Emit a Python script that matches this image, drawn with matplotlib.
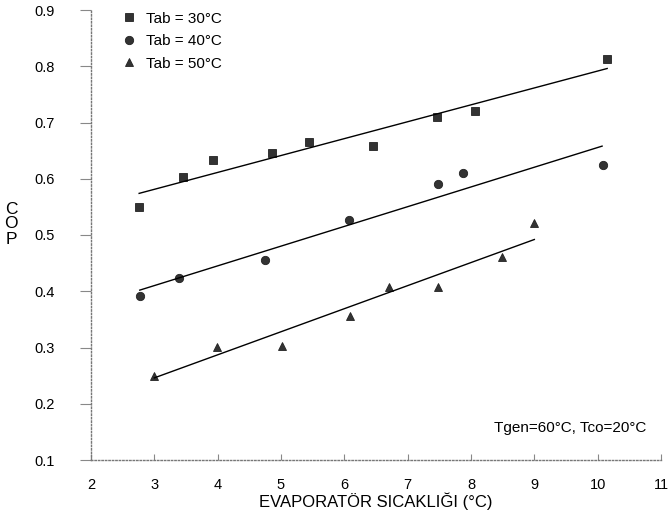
import matplotlib
matplotlib.use("Agg")
import matplotlib.pyplot as plt

plt.rcParams['font.family'] = ['Liberation Sans', 'DejaVu Sans']

# Tab = 30°C
x30 = [2.76, 3.45, 3.93, 4.86, 5.44, 6.45, 7.47, 8.07, 10.15]
y30 = [0.549, 0.603, 0.633, 0.645, 0.665, 0.658, 0.709, 0.720, 0.812]
fit30_x = [2.76, 10.15]
fit30_y = [0.574, 0.796]

# Tab = 40°C
x40 = [2.77, 3.39, 4.75, 6.08, 7.48, 7.88, 10.09]
y40 = [0.391, 0.423, 0.455, 0.526, 0.590, 0.610, 0.624]
fit40_x = [2.77, 10.07]
fit40_y = [0.402, 0.658]

# Tab = 50°C
x50 = [3.0, 3.99, 5.02, 6.09, 6.71, 7.48, 8.49, 9.0]
y50 = [0.249, 0.301, 0.302, 0.356, 0.407, 0.407, 0.461, 0.521]
fit50_x = [3.0, 9.0]
fit50_y = [0.246, 0.492]

labels = ["Tab = 30°C", "Tab = 40°C", "Tab = 50°C"]
xticks = [2, 3, 4, 5, 6, 7, 8, 9, 10, 11]
yticks = [0.1, 0.2, 0.3, 0.4, 0.5, 0.6, 0.7, 0.8, 0.9]

fig = plt.figure(figsize=(6.68, 5.14), dpi=100)
ax = fig.add_axes([91/668, 1-460/514, (661-91)/668, (460-10)/514])

mk = dict(linestyle='none', markersize=6, color='#333333', markeredgecolor='#222222', markeredgewidth=0.6)
ax.plot(x30, y30, marker='s', label=labels[0], **mk)
ax.plot(x40, y40, marker='o', label=labels[1], **mk)
ax.plot(x50, y50, marker='^', label=labels[2], **mk)
for fx, fy in [(fit30_x, fit30_y), (fit40_x, fit40_y), (fit50_x, fit50_y)]:
    ax.plot(fx, fy, color='black', linewidth=1.0)

ax.set_xlim(2, 11)
ax.set_ylim(0.1, 0.9)
ax.set_xticks(xticks)
ax.set_yticks(yticks)
ax.set_xticklabels([str(t) for t in xticks], fontsize=10.5)
ax.set_yticklabels(["%.1f" % t for t in yticks], fontsize=10.5)
ax.tick_params(axis='x', direction='in', length=4, pad=13, color='#888888')
ax.tick_params(axis='y', direction='out', length=8, pad=18, color='#888888')

for s in ['top', 'right']:
    ax.spines[s].set_visible(False)
for s in ['left', 'bottom']:
    ax.spines[s].set_linestyle((0, (1, 1.5)))
    ax.spines[s].set_color('#777777')
    ax.spines[s].set_linewidth(1.0)

ax.set_xlabel("EVAPORATÖR SICAKLIĞI (°C)", fontsize=12, labelpad=0)
fig.text(11/668, 1-224/514, "C\nO\nP", fontsize=12.5, ha='center', va='center', linespacing=1.0)

ax.text(0.975, 0.055, "Tgen=60°C, Tco=20°C", transform=ax.transAxes, ha='right', va='bottom', fontsize=11)

leg = ax.legend(loc='upper left', bbox_to_anchor=(0.035, 1.02), frameon=False, fontsize=11,
                handlelength=1.0, handletextpad=0.6, labelspacing=0.55, borderpad=0.2)

fig.savefig("out.png", dpi=100)
